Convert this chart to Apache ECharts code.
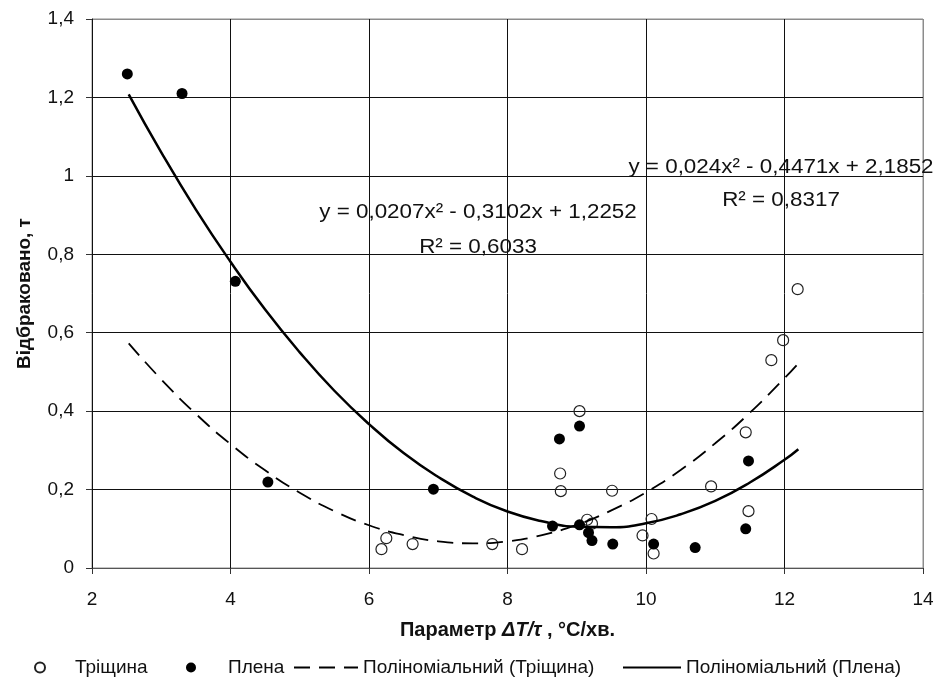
<!DOCTYPE html>
<html><head><meta charset="utf-8">
<script src="https://cdn.jsdelivr.net/npm/echarts@6/dist/echarts.min.js"></script>
<style>html,body{margin:0;padding:0;background:#fff}#c{width:937px;height:680px}</style>
</head><body><div id="c"></div>
<script>
// ---- data ----
const crackX = [6.18, 6.25, 6.63, 7.78, 8.21, 8.76, 8.77, 9.04, 9.15, 9.22, 9.51, 9.95, 10.08, 10.11, 10.94, 11.44, 11.48, 11.81, 11.98, 12.19];
const crackY = [0.048, 0.076, 0.061, 0.061, 0.048, 0.241, 0.196, 0.400, 0.123, 0.113, 0.197, 0.083, 0.125, 0.037, 0.208, 0.346, 0.145, 0.530, 0.581, 0.711];
const filmX  = [2.51, 3.30, 4.07, 4.54, 6.93, 8.65, 8.75, 9.04, 9.04, 9.17, 9.22, 9.52, 10.11, 10.71, 11.44, 11.48];
const filmY  = [1.260, 1.210, 0.731, 0.219, 0.201, 0.107, 0.329, 0.362, 0.110, 0.090, 0.070, 0.061, 0.061, 0.052, 0.100, 0.273];
// trend curves
const trendX      = [2.53, 3, 3.5, 4, 4.5, 5, 5.5, 6, 6.5, 7, 7.5, 8, 8.5, 9, 9.5, 10, 10.5, 11, 11.5, 12, 12.2];
const trendCrackY = [0.573, 0.481, 0.393, 0.316, 0.249, 0.192, 0.145, 0.109, 0.084, 0.068, 0.063, 0.068, 0.084, 0.110, 0.147, 0.193, 0.250, 0.318, 0.396, 0.484, 0.522];
const trendFilmY  = [1.208, 1.060, 0.914, 0.781, 0.659, 0.550, 0.452, 0.367, 0.293, 0.232, 0.182, 0.144, 0.119, 0.105, 0.104, 0.114, 0.137, 0.171, 0.218, 0.276, 0.303];
const xTickLabels = ['2', '4', '6', '8', '10', '12', '14'];
const yTickLabels = ['0', '0,2', '0,4', '0,6', '0,8', '1', '1,2', '1,4'];
const seriesNames = ['Тріщина', 'Плена', 'Поліноміальний (Тріщина)', 'Поліноміальний (Плена)'];
const eqCrack = 'y = 0,0207x² - 0,3102x + 1,2252';
const r2Crack = 'R² = 0,6033';
const eqFilm  = 'y = 0,024x² - 0,4471x + 2,1852';
const r2Film  = 'R² = 0,8317';
const xTitle = ['Параметр ', 'ΔT/τ', ' , °C/хв.'];
const yTitle = 'Відбраковано, т';

const FONT = "'Liberation Sans', Arial, sans-serif";
const zip = (xs, ys) => xs.map((x, i) => [x, ys[i]]);

const chart = echarts.init(document.getElementById('c'), null, {renderer: 'canvas'});
const legendBase = {
  top: 658, padding: 0, itemHeight: 10, selectedMode: false,
  textStyle: {fontFamily: FONT, fontSize: 19, color: '#111'}
};
const eqText = (txt, x, y) => ({type: 'text', x: x, y: y, z: 10, scaleX: 1.12,
  style: {text: txt, font: '20px ' + FONT, fill: '#111', align: 'center', verticalAlign: 'middle'}});

chart.setOption({
  animation: false,
  backgroundColor: '#fff',
  textStyle: {fontFamily: FONT},
  grid: {left: 92, right: 14, top: 19, bottom: 112, show: true, borderColor: '#8c8c8c', borderWidth: 1},
  xAxis: {
    type: 'value', min: 2, max: 14, interval: 2,
    axisLine: {lineStyle: {color: '#555', width: 1}},
    axisTick: {show: true, length: 6, inside: false, lineStyle: {color: '#333'}},
    axisLabel: {fontSize: 19, color: '#111', margin: 22, fontFamily: FONT,
      formatter: v => xTickLabels[Math.round((v - 2) / 2)]},
    splitLine: {show: true, lineStyle: {color: ['#111', '#111', '#111', '#111', '#111', '#111', '#8c8c8c'], width: 1}},
    name: '{b|' + xTitle[0] + '}{i|' + xTitle[1] + '}{b|' + xTitle[2] + '}',
    nameLocation: 'middle', nameGap: 52,
    nameTextStyle: {rich: {
      b: {fontFamily: FONT, fontWeight: 'bold', fontSize: 20, color: '#111'},
      i: {fontFamily: FONT, fontWeight: 'bold', fontStyle: 'italic', fontSize: 20, color: '#111'}
    }}
  },
  yAxis: {
    type: 'value', min: 0, max: 1.4, interval: 0.2,
    axisLine: {show: true, lineStyle: {color: '#111', width: 1}},
    axisTick: {show: true, length: 6, inside: false, lineStyle: {color: '#333'}},
    axisLabel: {fontSize: 19, color: '#111', margin: 18, fontFamily: FONT,
      formatter: v => yTickLabels[Math.round(v / 0.2)]},
    splitLine: {show: true, lineStyle: {color: ['#8c8c8c', '#111', '#111', '#111', '#111', '#111', '#111', '#8c8c8c'], width: 1}},
    name: yTitle, nameLocation: 'middle', nameGap: 58, nameRotate: 90,
    nameTextStyle: {fontFamily: FONT, fontWeight: 'bold', fontSize: 19, color: '#111'}
  },
  legend: [
    Object.assign({}, legendBase, {data: [seriesNames[0]], left: 34, itemWidth: 60}),
    Object.assign({}, legendBase, {data: [seriesNames[1]], left: 186, itemWidth: 64}),
    Object.assign({}, legendBase, {data: [{name: seriesNames[2], itemStyle: {opacity: 0}}], left: 293, itemWidth: 64}),
    Object.assign({}, legendBase, {data: [{name: seriesNames[3], itemStyle: {opacity: 0}}], left: 622, itemWidth: 58})
  ],
  series: [
    {name: seriesNames[0], type: 'scatter', symbol: 'circle', symbolSize: 11, z: 3,
      itemStyle: {color: 'rgba(255,255,255,0)', borderColor: '#222', borderWidth: 1.2, opacity: 1},
      data: zip(crackX, crackY)},
    {name: seriesNames[1], type: 'scatter', symbol: 'circle', symbolSize: 11, z: 3,
      itemStyle: {color: '#000', borderColor: '#000', borderWidth: 0, opacity: 1},
      data: zip(filmX, filmY)},
    {name: seriesNames[2], type: 'line', smooth: true, symbol: 'none', z: 4,
      itemStyle: {color: '#000'},
      lineStyle: {color: '#000', width: 1.8, type: [16, 9]},
      data: zip(trendX, trendCrackY)},
    {name: seriesNames[3], type: 'line', smooth: true, symbol: 'none', z: 4,
      itemStyle: {color: '#000'},
      lineStyle: {color: '#000', width: 2.5, type: 'solid'},
      data: zip(trendX, trendFilmY)}
  ],
  graphic: [
    eqText(eqCrack, 478, 212),
    eqText(r2Crack, 478, 247),
    eqText(eqFilm, 781, 167),
    eqText(r2Film, 781, 200)
  ]
});
</script>
</body></html>
